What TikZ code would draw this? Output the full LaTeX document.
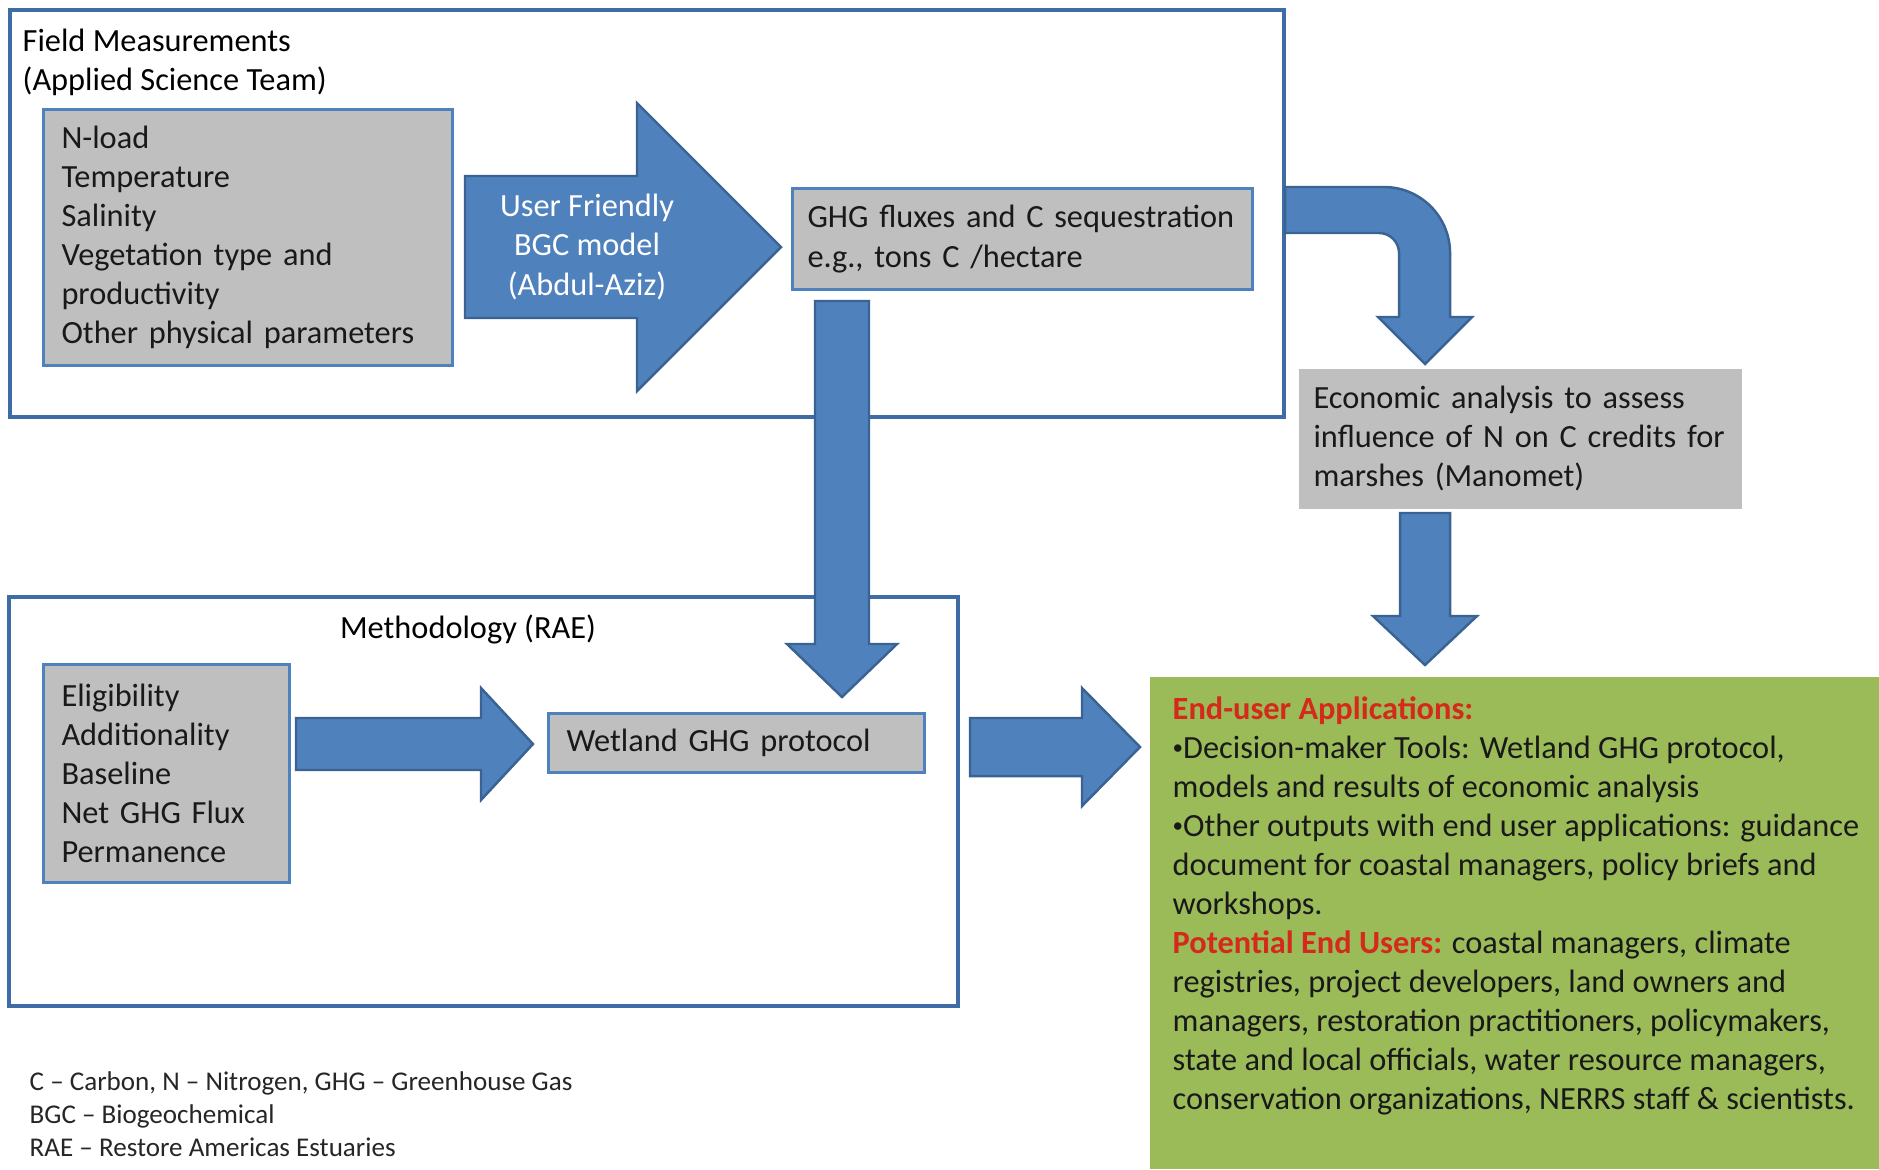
\documentclass[tikz,border=0pt]{standalone}
\usepackage{fontspec}
\setmainfont{Carlito}
\usetikzlibrary{calc}

\definecolor{arrowblue}{HTML}{4F81BD}
\definecolor{arrowedge}{HTML}{3A6393}
\definecolor{frameblue}{HTML}{3D6CA6}
\definecolor{boxgray}{HTML}{BFBFBF}
\definecolor{appgreen}{HTML}{9BBB59}
\definecolor{appred}{HTML}{D42A1C}
\newcommand{\smallbullet}{\raisebox{0.12em}{\fontsize{6}{6}\selectfont •}}

\begin{document}
\begin{tikzpicture}[x=0.01cm, y=-0.01cm,
    font=\fontsize{9.2}{11.1}\selectfont,
    frame/.style={draw=frameblue, line width=1.15pt},
    graybox/.style={draw=arrowblue, line width=0.85pt, fill=boxgray, anchor=north west,
        align=left, inner xsep=0.18cm, inner ysep=0pt, text=black!90},
    blockarrow/.style={fill=arrowblue, draw=arrowedge, line width=0.7pt, line join=miter}]
    \useasboundingbox (0,0) rectangle (1879,1169);

    % Define coordinates for the tails and tips of the block arrows
    \coordinate (bgcTail) at (465,247);
    \coordinate (bgcTip) at (781,247);
    \coordinate (ghgTail) at (842,301);
    \coordinate (ghgTip) at (842,697);
    \coordinate (econStart) at (1285,187);
    \coordinate (econTip) at (1425,364);
    \coordinate (econTail) at (1425,513);
    \coordinate (appTip) at (1425,665);
    \coordinate (methTail) at (296,744);
    \coordinate (methTip) at (533,744);
    \coordinate (useTail) at (970,747);
    \coordinate (useTip) at (1140,747);

    % Draw the two outer frames
    \draw[frame] (10,10) rectangle (1284,417);
    \draw[frame] (9,597) rectangle (958,1006);

    % Frame titles
    \node[anchor=north west, inner sep=0pt, align=left] (fieldtitle) at (22,28)
        {Field Measurements\\(Applied Science Team)};
    \node[inner sep=0pt] (methtitle) at (468,629) {Methodology (RAE)};

    % Green end-user panel
    \fill[appgreen] (1150,677) rectangle (1879,1169);

    % Draw the block arrows
    \filldraw[blockarrow] (bgcTail) ++(0,-71) -- ++(172,0) -- ++(0,-73) -- (bgcTip)
        -- ++(-144,144) -- ++(0,-73) -- ++(-172,0) -- cycle;
    \filldraw[blockarrow] (ghgTail) ++(-27,0) -- ++(54,0) -- ++(0,343) -- ++(28,0) -- (ghgTip)
        -- ++(-55,-53) -- ++(28,0) -- cycle;
    \filldraw[blockarrow] (econStart) -- (1384,187) arc (90:0:0.66cm) -- (1450,317) -- (1472,317)
        -- (econTip) -- (1378,317) -- (1399,317) -- (1399,253) arc (0:90:0.2cm) -- (1285,233) -- cycle;
    \filldraw[blockarrow] (econTail) ++(-25,0) -- ++(50,0) -- ++(0,103) -- ++(27,0) -- (appTip)
        -- ++(-52,-49) -- ++(27,0) -- cycle;
    \filldraw[blockarrow] (methTail) ++(0,-26) -- ++(185,0) -- ++(0,-30) -- (methTip)
        -- ++(-52,56) -- ++(0,-30) -- ++(-185,0) -- cycle;
    \filldraw[blockarrow] (useTail) ++(0,-29) -- ++(112,0) -- ++(0,-30) -- (useTip)
        -- ++(-58,59) -- ++(0,-30) -- ++(-112,0) -- cycle;

    % Text inside the model arrow
    \node[text=white, align=center, inner sep=0pt] (bgc) at (587,247)
        {User Friendly\\BGC model\\(Abdul-Aziz)};

    % Gray boxes
    \node[graybox, text width=3.73cm, minimum height=2.56cm] (params) at (42,108)
        {N-load\\Temperature\\Salinity\\Vegetation type and\\productivity\\Other physical parameters};
    \node[graybox, inner xsep=0.15cm, text width=4.30cm, minimum height=1.01cm] (ghg) at (791,187)
        {GHG fluxes and C sequestration\\e.g., tons C /hectare};
    \node[graybox, draw=none, inner xsep=0.15cm, text width=4.13cm, minimum height=1.40cm] (econ) at (1297,367)
        {Economic analysis to assess\\influence of N on C credits for\\marshes (Manomet)};
    \node[graybox, text width=2.10cm, minimum height=2.18cm] (elig) at (42,663)
        {Eligibility\\Additionality\\Baseline\\Net GHG Flux\\Permanence};
    \node[graybox, text width=3.40cm, minimum height=0.59cm] (wetland) at (547,712)
        {Wetland GHG protocol};

    % End-user text
    \node[anchor=north west, inner sep=0pt, align=left, text=black!90] (apps) at (1172,696)
        {{\color{appred}\bfseries End-user Applications:}\\
         \smallbullet Decision-maker Tools: Wetland GHG protocol,\\
         models and results of economic analysis\\
         \smallbullet Other outputs with end user applications: guidance\\
         document for coastal managers, policy briefs and\\
         workshops.\\
         {\color{appred}\bfseries Potential End Users:} coastal managers, climate\\
         registries, project developers, land owners and\\
         managers, restoration practitioners, policymakers,\\
         state and local officials, water resource managers,\\
         conservation organizations, NERRS staff \& scientists.};

    % Abbreviations
    \node[anchor=north west, inner sep=0pt, align=left, text=black!85,
        font=\fontsize{7.7}{9.4}\selectfont] (legend) at (29,1071)
        {C -- Carbon, N -- Nitrogen, GHG -- Greenhouse Gas\\
         BGC -- Biogeochemical\\
         RAE -- Restore Americas Estuaries};
\end{tikzpicture}
\end{document}
